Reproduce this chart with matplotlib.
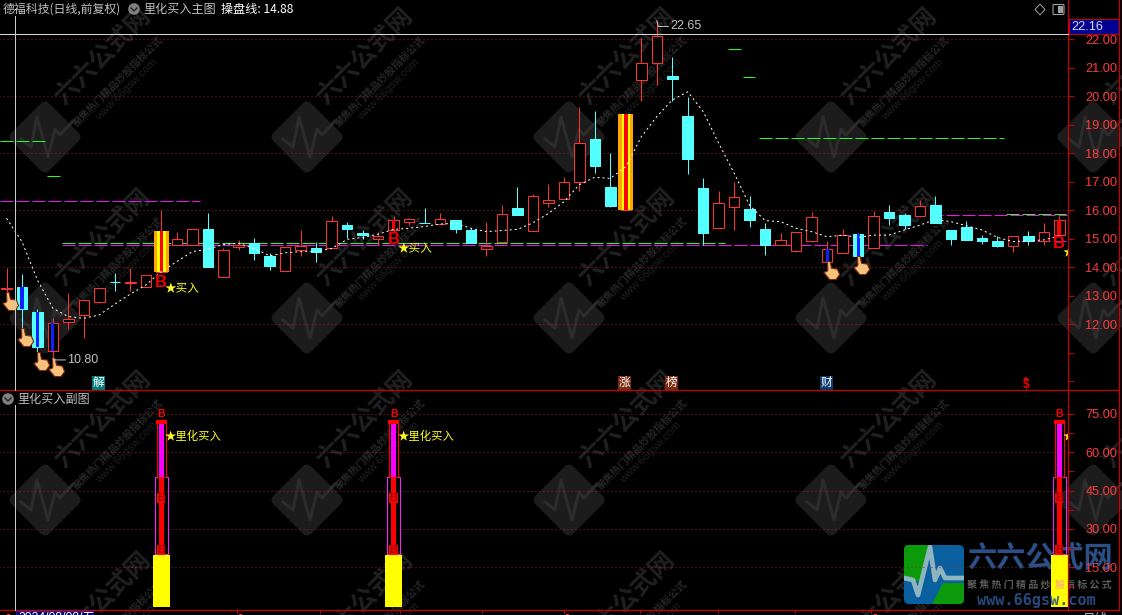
import numpy as np
import matplotlib
matplotlib.use('Agg')
import matplotlib.pyplot as plt
from matplotlib.path import Path
from matplotlib.patches import Rectangle, Polygon, Circle, FancyBboxPatch

plt.rcParams['font.family'] = ['Noto Sans CJK SC', 'DejaVu Sans']

# Candles
open_px = [13.25, 13.31, 12.43, 11.07, 12.09, 12.34, 12.79, 13.50, 13.44, 13.32,
           13.83, 14.77, 14.77, 15.34, 13.67, 14.72, 14.84, 14.40, 13.88, 14.60,
           14.68, 14.69, 15.48, 15.20, 14.99, 15.31, 15.60, 15.57, 15.52, 15.66,
           15.31, 14.65, 14.90, 16.08, 15.29, 16.24, 16.39, 17.00, 18.50, 16.82,
           16.01, 20.58, 21.16, 20.71, 19.31, 16.77, 15.39, 16.13, 16.05, 15.34,
           14.77, 14.58, 14.93, 14.20, 14.49, 15.17, 14.69, 15.94, 15.82, 15.81,
           16.19, 15.31, 15.40, 15.04, 14.91, 14.76, 15.10, 14.91, 15.14]
high_px = [13.96, 13.76, 12.54, 12.23, 13.09, 12.84, 13.26, 13.79, 13.96, 13.72,
           16.01, 15.23, 15.33, 15.89, 14.69, 14.96, 15.04, 14.49, 14.70, 15.31,
           14.89, 15.80, 15.58, 15.31, 15.25, 15.80, 15.74, 16.07, 15.89, 15.66,
           15.37, 15.59, 16.19, 16.82, 16.57, 16.92, 17.16, 19.62, 19.48, 18.00,
           19.38, 22.05, 22.65, 21.38, 19.98, 17.13, 16.68, 17.00, 16.50, 15.57,
           15.20, 15.23, 15.94, 14.91, 15.34, 15.19, 15.99, 16.19, 15.89, 16.36,
           16.50, 15.31, 15.61, 15.12, 15.09, 15.09, 15.26, 15.54, 15.80]
low_px = [13.11, 11.87, 10.98, 10.80, 11.83, 11.53, 12.76, 13.18, 13.17, 13.30,
          13.80, 14.77, 14.77, 14.01, 13.67, 14.60, 14.27, 13.92, 13.88, 14.41,
          14.19, 14.69, 15.03, 15.00, 14.78, 15.25, 15.48, 15.55, 15.52, 15.22,
          14.84, 14.41, 14.90, 15.84, 15.29, 16.13, 16.39, 16.69, 17.31, 16.13,
          16.01, 19.85, 20.41, 19.85, 17.28, 14.79, 15.39, 15.31, 15.43, 14.44,
          14.77, 14.55, 14.90, 14.20, 14.49, 14.40, 14.69, 15.48, 15.33, 15.81,
          15.57, 14.79, 14.96, 14.82, 14.71, 14.55, 14.79, 14.79, 15.14]
close_px = [13.28, 12.52, 11.22, 12.03, 12.19, 12.84, 13.26, 13.49, 13.50, 13.72,
            15.27, 15.00, 15.33, 14.01, 14.60, 14.77, 14.51, 14.06, 14.70, 14.75,
            14.54, 15.61, 15.36, 15.13, 15.10, 15.65, 15.69, 15.55, 15.68, 15.34,
            14.84, 14.76, 15.86, 15.84, 16.49, 16.36, 17.00, 18.35, 17.57, 16.15,
            19.38, 21.16, 22.10, 20.62, 17.81, 15.22, 16.24, 16.45, 15.66, 14.77,
            14.95, 15.23, 15.75, 14.63, 15.12, 14.40, 15.80, 15.74, 15.50, 16.15,
            15.57, 14.99, 14.96, 14.93, 14.76, 15.09, 14.91, 15.23, 15.65]
# the dotted line (操盘线)
line_px = [15.72, 14.90, 13.55, 12.56, 12.27, 12.21, 12.33, 12.71, 13.06, 13.38,
           13.85, 14.20, 14.55, 14.63, 14.80, 14.84, 14.66, 14.40, 14.51, 14.55,
           14.55, 14.66, 14.98, 15.05, 15.16, 15.33, 15.37, 15.43, 15.52, 15.54,
           15.37, 15.25, 15.29, 15.33, 15.56, 15.89, 16.30, 16.90, 17.16, 17.12,
           17.53, 18.58, 19.29, 19.87, 20.16, 19.46, 18.35, 17.30, 16.17, 15.64,
           15.60, 15.37, 15.25, 15.07, 15.13, 15.05, 15.13, 15.13, 15.31, 15.48,
           15.68, 15.60, 15.46, 15.31, 15.05, 14.90, 14.93, 14.96, 15.10]

hand_idx = [0, 1, 2, 3, 53, 55]
hand_px = [12.82, 11.55, 10.71, 10.50, 13.90, 14.08]
stripe_idx = [10, 40]
red_core_idx = [25, 68]
b_idx = [10, 25, 68]
b_px = [13.48, 14.96, 14.85]
buy_px = [13.24, 14.64, 14.50]

# level segments: price, first bar, last bar
magenta_levels = [(16.32, -0.42, 12.5), (14.77, 3.6, 59.45), (15.82, 59.65, 68.5), (14.93, 65.5, 68.5)]
green_levels = [(18.42, -0.42, 2.5), (17.19, 2.6, 3.5), (14.84, 3.6, 46.4), (21.65, 46.6, 47.45),
                (20.67, 47.6, 48.35), (18.54, 48.6, 64.4), (15.86, 64.55, 68.4)]

# lower panel
sub_idx = [10, 25, 68]
yellow_top = [20.2, 20.2, 20.2]
box_top = [50.2, 50.2, 50.2]
thin_top = [72.5, 72.5, 72.5]
fill_top = [70.8, 70.8, 70.8]

price_ticks = [22, 21, 20, 19, 18, 17, 16, 15, 14, 13, 12, 11, 10]
price_labels = ['22.00', '21.00', '20.00', '19.00', '18.00', '17.00', '16.00',
                '15.00', '14.00', '13.00', '12.00', '', '']
price_grid = [22, 20, 18, 16, 14, 12]
sub_ticks = [75, 60, 45, 30, 15]
sub_labels = ['75.00', '60.00', '45.00', '30.00', '15.00']

RED = '#ff3232'
CYAN = '#54ffff'
AXRED = '#c80000'
GRAY = '#c0c0c0'
LATIN = ['Liberation Sans', 'Noto Sans CJK SC', 'DejaVu Sans']
PX = 0.72  # one pixel in points
W, H = 1122, 615
PANEL_R, MAIN_B, SUB_B = 1068, 390.3, 610
SPACING = 15.483

fig = plt.figure(figsize=(W / 100, H / 100), dpi=100, facecolor='black')


def px_axes(zorder):
    a = fig.add_axes([0, 0, 1, 1], zorder=zorder)
    a.set_xlim(0, W)
    a.set_ylim(H, 0)
    a.axis('off')
    a.patch.set_alpha(0)
    return a


bg = px_axes(0)
top = px_axes(5)
ax = fig.add_axes([0, (H - MAIN_B) / H, PANEL_R / W, MAIN_B / H], zorder=2)
sub = fig.add_axes([0, (H - SUB_B) / H, PANEL_R / W, (SUB_B - MAIN_B) / H], zorder=2)

# Watermark
for cy in [-44, 137, 318, 500, 681]:
    for cx in [45, 307, 569, 831, 1093]:
        bg.add_patch(Polygon([(cx - 30, cy), (cx, cy - 30), (cx + 30, cy), (cx, cy + 30)], closed=True,
                             fc='#1c1c1c', ec='#1c1c1c', lw=8, joinstyle='round'))
        bg.plot([cx - 24, cx - 14, cx - 8, cx + 3, cx + 10, cx + 15, cx + 28],
                [cy + 2, cy + 10, cy - 20, cy + 20, cy - 8, cy - 2, cy - 16], color='#2c2c2c', lw=2.2)
        bg.text(cx + 14, cy - 37, '六六公式网', color='#202020', fontsize=18, fontweight='bold', rotation=45,
                rotation_mode='anchor', ha='left', va='center')
        bg.text(cx + 30, cy - 12, '聚焦热门精品炒股指标公式', color='#262626', fontsize=7.4, fontweight='bold',
                rotation=45, rotation_mode='anchor', ha='left', va='center')
        bg.text(cx + 52, cy - 19, 'www.66gsw.com', color='#1f1f1f', fontsize=8, rotation=45,
                rotation_mode='anchor', ha='left', va='center', family=LATIN)

# Logo, lower right
box = FancyBboxPatch((909, 550), 50, 49, boxstyle='round,pad=5', fc='#0a5f9f', ec='none', zorder=3)
bg.add_patch(box)
for pts in ([(904, 545), (930, 545), (920, 582), (904, 578)], [(943, 583), (964, 583), (964, 604), (932, 604)]):
    g = Polygon(pts, closed=True, fc='#0a9a0a', ec='none', zorder=3.1)
    bg.add_patch(g)
    g.set_clip_path(box)
pulse = bg.plot([904, 913, 918, 930, 935, 940, 945, 964], [578, 580, 595, 547, 580, 568, 578, 578],
                color='#8fb5c0', lw=3.4, zorder=3.2)[0]
pulse.set_clip_path(box)
bg.text(1040, 558, '六六公式网', color='#2b5088', fontsize=21, fontweight='bold', ha='center', va='center', zorder=3)
bg.text(1039, 585, ' '.join('聚焦热门精品炒股指标公式'), color='#5c5c5c', fontsize=7.2, fontweight='bold',
        ha='center', va='center', zorder=3)
top.text(1036, 601, 'www.66gsw.com', color='#2b5088', fontsize=11, fontweight='bold', ha='center', va='center',
         family='DejaVu Sans Mono', alpha=0.9)
top.text(1060, 585, '股', color='#ffb070', fontsize=7.2, fontweight='bold', ha='center', va='center')

# Main panel
x = np.arange(len(open_px))
o, h, l, c = map(np.array, (open_px, high_px, low_px, close_px))
up = c >= o
ax.hlines(price_grid, -1, 70, color='#a02020', lw=PX, linestyles=(0, (1, 3)), zorder=1)
for price, a, b in magenta_levels:
    ax.plot([a, b], [price, price], color='#f010f0', lw=PX, ls=(0, (13, 3)), dash_capstyle='butt', zorder=1.5)
for price, a, b in green_levels:
    ax.plot([a, b], [price, price], color='#20ff20', lw=PX, ls=(0, (13, 3)), dash_capstyle='butt', zorder=1.6)
ax.vlines(x[up], l[up], h[up], color=RED, lw=PX, zorder=2)
ax.vlines(x[~up], l[~up], h[~up], color=CYAN, lw=PX, zorder=2)
bw = 0.68
ax.bar(x[up], (c - o)[up], bottom=o[up], width=bw, fc='black', ec=RED, lw=PX, zorder=2.5)
ax.bar(x[~up], (c - o)[~up], bottom=o[~up], width=bw, fc=CYAN, ec=CYAN, lw=PX, zorder=2.5)
for i in [0, 1, 2, 3, 53, 55]:
    ax.bar(i, c[i] - o[i], bottom=o[i], width=0.2 if i != 0 else 0.12, fc='#1020ff', ec='none', zorder=2.6)
for i in red_core_idx:
    ax.bar(i, c[i] - o[i], bottom=o[i], width=0.24, fc='#ff0000', ec='none', zorder=2.6)
for i in stripe_idx:
    ax.bar(i, c[i] - o[i], bottom=o[i], width=0.97, fc='#ffa500', ec='none', zorder=2.6)
    ax.bar(i, c[i] - o[i], bottom=o[i], width=0.55, fc='#ffff00', ec='none', zorder=2.65)
    ax.bar(i, c[i] - o[i], bottom=o[i], width=0.22, fc='#ff0000', ec='none', zorder=2.7)
ax.plot(x, line_px, color='white', lw=PX, ls=(0, (2, 3)), dash_capstyle='butt', zorder=3)

hand = Path([(-0.45, 1.0), (-0.15, 1.0), (0.0, 0.25), (0.65, 0.15), (0.9, -0.45), (0.5, -1.0),
             (-0.2, -1.0), (-0.85, -0.2), (-0.5, -0.1), (-0.4, 0.05), (-0.45, 1.0)])
ax.scatter(np.array(hand_idx) + 0.22, hand_px, marker=hand, s=170, fc='#f6c27c', ec='#7a2a10', lw=0.8, zorder=4)

for i, p in zip(b_idx, b_px):
    ax.text(i, p, 'B', color='#f00000', fontsize=12, fontweight='bold', ha='center', va='center', family=LATIN, zorder=4)
for i, p in zip(b_idx, buy_px):
    ax.text(i + 0.24, p, '★买入', color='#ffff20', fontsize=8.4, ha='left', va='center', clip_on=True, zorder=4)

# high / low notes
ax.plot([42.0, 42.1, 42.75], [22.65, 22.45, 22.45], color=GRAY, lw=PX, zorder=4)
ax.text(42.85, 22.48, '22.65', color=GRAY, fontsize=9, ha='left', va='center', family=LATIN)
ax.plot([3.0, 3.1, 3.8], [10.8, 10.75, 10.75], color=GRAY, lw=PX, zorder=4)
ax.text(3.9, 10.74, '10.80', color=GRAY, fontsize=9, ha='left', va='center', family=LATIN)

ax.set_ylim(22 - (MAIN_B - 39.3) / 28.5, 22 + 39.3 / 28.5)
ax.set_yticks(price_ticks)
ax.set_yticklabels(price_labels)

# Lower panel
sub.hlines(sub_ticks, -1, 70, color='#a02020', lw=PX, linestyles=(0, (1, 3)), zorder=1)
sx = np.array(sub_idx)
sub.bar(sx, yellow_top, bottom=-0.4, width=1.1, fc='#ffff00', ec='none', zorder=3)
sub.bar(sx, np.array(box_top) - np.array(yellow_top), bottom=yellow_top, width=0.8, fc='none', ec='#ff20ff', lw=PX, zorder=2)
sub.bar(sx, np.array(thin_top) - np.array(box_top), bottom=box_top, width=0.56, fc='none', ec='#ff0000', lw=PX, zorder=2)
sub.bar(sx, np.array(fill_top) - np.array(box_top), bottom=box_top, width=0.36, fc='#ff00ff', ec='none', zorder=2.2)
sub.bar(sx, np.array(thin_top) - np.array(fill_top), bottom=fill_top, width=0.7, fc='#ff0000', ec='none', zorder=2.2)
sub.bar(sx, np.array(box_top) - np.array(yellow_top), bottom=yellow_top, width=0.36, fc='#ff0000', ec='none', zorder=2.2)
for i in sub_idx:
    sub.text(i, 74.8, 'B', color='#ff0000', fontsize=7.5, fontweight='bold', ha='center', va='center',
             family=LATIN, zorder=4)
    for v in [42, 21.7]:
        sub.text(i, v, 'B', color='#a00000', fontsize=8, fontweight='bold', ha='center', va='center',
                 family=LATIN, zorder=4, bbox=dict(fc='#ff0000', ec='none', pad=0.1))
    sub.text(i + 0.24, 66, '★里化买入', color='#ffff20', fontsize=8.2, ha='left', va='center', clip_on=True, zorder=4)
sub.set_ylim(75 - (SUB_B - 413.7) / 2.56, 75 + (413.7 - MAIN_B) / 2.56)
sub.set_yticks(sub_ticks)
sub.set_yticklabels(sub_labels)
sub.set_yticks([67.5, 52.5, 37.5, 22.5, 7.5], minor=True)

for a in (ax, sub):
    a.set_xlim(-6.5 / SPACING, (PANEL_R - 6.5) / SPACING)
    a.set_xticks([])
    a.patch.set_alpha(0)
    for s in a.spines.values():
        s.set_visible(False)
    a.yaxis.tick_right()
    a.tick_params(axis='y', which='both', colors=AXRED, width=PX, length=4, pad=8.5)
    for t in a.get_yticklabels():
        t.set_color('#ff3c3c')
        t.set_fontsize(9.2)
        t.set_family(LATIN)

# Frame and header
top.plot([0, 1119], [MAIN_B, MAIN_B], color=AXRED, lw=0.9)
top.plot([0, 1119], [SUB_B, SUB_B], color=AXRED, lw=0.9)
top.plot([PANEL_R, PANEL_R], [0, SUB_B], color=AXRED, lw=0.9)
top.plot([1119, 1119], [0, SUB_B], color=AXRED, lw=0.9)
top.plot([0, PANEL_R], [34.3, 34.3], color='#d8d8d8', lw=PX)
top.plot([15.3, 15.3], [16, MAIN_B], color='#c8c8c8', lw=PX)
top.plot([15.3, 15.3], [405, SUB_B], color='#c8c8c8', lw=PX)
top.add_patch(Rectangle((1069, 18.7), 50, 15.5, fc='#000090', ec=AXRED, lw=0.8))
top.text(1071, 26.6, '22.16', color='#d8d8f0', fontsize=9.2, ha='left', va='center', family=LATIN)

top.text(3, 9, '德福科技(日线,前复权)', color=GRAY, fontsize=8.6, ha='left', va='center')
top.add_patch(Circle((134, 9), 5.8, fc='#808080', ec='none'))
top.plot([131, 134, 137], [8, 11, 8], color='#222222', lw=1)
top.text(143, 9, '里化买入主图', color=GRAY, fontsize=8.7, ha='left', va='center')
top.text(221, 9, '操盘线: 14.88', color='white', fontsize=8.7, ha='left', va='center')
top.add_patch(Polygon([(1040, 4), (1045, 9.5), (1040, 15), (1035, 9.5)], closed=True, fc='none', ec='#a0a0a0', lw=0.7))
top.add_patch(FancyBboxPatch((1054, 5.5), 9, 8, boxstyle='round,pad=1', fc='none', ec='#a0a0a0', lw=0.8))
top.add_patch(Rectangle((1058, 6), 5, 7, fc='#a0a0a0', ec='none'))
top.add_patch(Circle((8, 399), 5.8, fc='#808080', ec='none'))
top.plot([5, 8, 11], [398, 401, 398], color='#222222', lw=1)
top.text(17, 399, '里化买入副图', color=GRAY, fontsize=8.7, ha='left', va='center')

# Event badges
for bx, txt, col in [(92, '解', '#007b7b'), (618, '涨', '#7a2a10'), (665.5, '榜', '#7a2a10'), (820, '财', '#0c3a6b')]:
    top.add_patch(Rectangle((bx, 376), 13, 13.5, fc=col, ec='none'))
    top.text(bx + 6.5, 382.7, txt, color='white', fontsize=8.4, ha='center', va='center')
top.text(1026, 385, '$', color='#f00000', fontsize=8.5, fontweight='bold', ha='center', va='center', family=LATIN)
top.add_patch(Polygon([(1023, 380), (1026, 376.5), (1029, 380)], closed=True, fc='#f00000', ec='none'))

# Date strip, cut by the picture edge
top.add_patch(Rectangle((16, 611), 77, 8, fc='#000060', ec='#2020c0', lw=0.8))
top.text(18, 618, '2024/08/08/五', color='white', fontsize=8.8, ha='left', va='center', family=LATIN, clip_on=True)
for tx in [237.5, 320, 400, 482, 563.6, 640, 718, 795, 871]:
    top.plot([tx, tx], [SUB_B, 613], color=AXRED, lw=PX)
for tx in [9, 241, 568, 876]:
    top.add_patch(Rectangle((tx - 1.5, 613.5), 3, 2, fc='#ff3232', ec='none'))
top.text(1095, 619, '日线', color=GRAY, fontsize=9, ha='center', va='center', clip_on=True)

fig.savefig('out.png', dpi=100, facecolor='black')
